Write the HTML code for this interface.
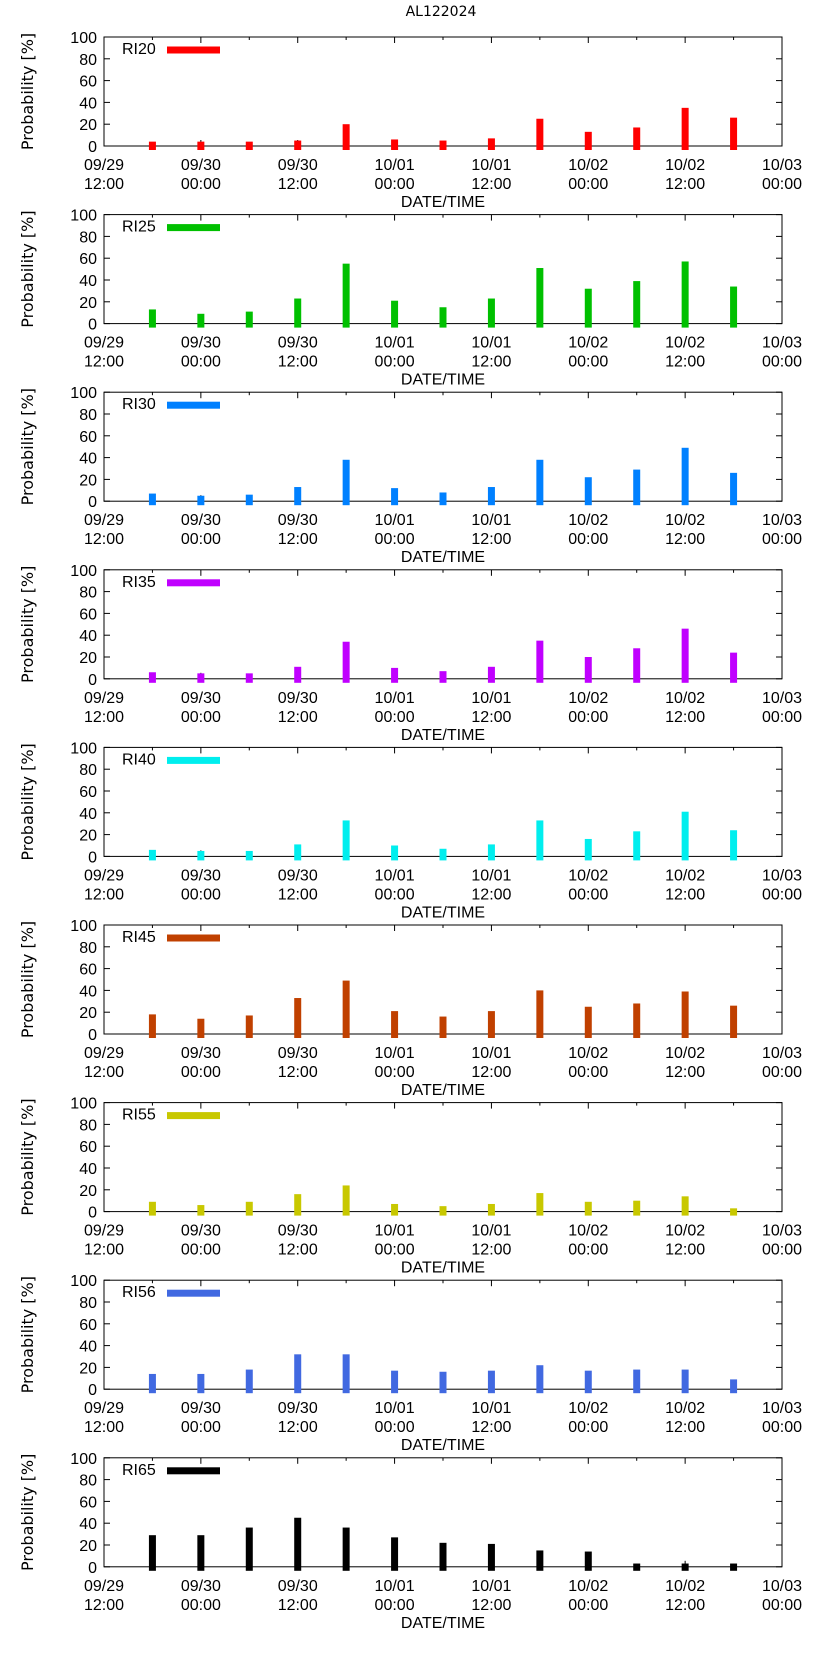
<!DOCTYPE html>
<html><head><meta charset="utf-8"><style>
body{margin:0;background:#fff;}
svg text{font-family:"Liberation Sans",sans-serif;fill:#000;}
svg text.dv{font-family:"DejaVu Sans",sans-serif;}
</style></head><body>
<svg id="c" width="822" height="1653" xmlns="http://www.w3.org/2000/svg">
<text class="dv" x="441" y="16" text-anchor="middle" font-size="14">AL122024</text>
</svg>
<script>
const seriesNames=["RI20","RI25","RI30","RI35","RI40","RI45","RI55","RI56","RI65"];
const seriesColors=["#ff0000","#00c000","#0080ff","#c000ff","#00eeee","#c04000","#c8c800","#4169e1","#000000"];
const barHours=[6,12,18,24,30,36,42,48,54,60,66,72,78];
const ri20=[4,4,4,5,20,6,5,7,25,13,17,35,26];
const ri25=[13,9,11,23,55,21,15,23,51,32,39,57,34];
const ri30=[7,5,6,13,38,12,8,13,38,22,29,49,26];
const ri35=[6,5,5,11,34,10,7,11,35,20,28,46,24];
const ri40=[6,5,5,11,33,10,7,11,33,16,23,41,24];
const ri45=[18,14,17,33,49,21,16,21,40,25,28,39,26];
const ri55=[9,6,9,16,24,7,5,7,17,9,10,14,3];
const ri56=[14,14,18,32,32,17,16,17,22,17,18,18,9];
const ri65=[29,29,36,45,36,27,22,21,15,14,3,3,3];
const allSeries=[ri20,ri25,ri30,ri35,ri40,ri45,ri55,ri56,ri65];
const xTickHours=[0,12,24,36,48,60,72,84];
const xTickTop=["09/29","09/30","09/30","10/01","10/01","10/02","10/02","10/03"];
const xTickBot=["12:00","00:00","12:00","00:00","12:00","00:00","12:00","00:00"];
const yTicks=[0,20,40,60,80,100];

const NS="http://www.w3.org/2000/svg";
const svg=document.getElementById('c');
const L=104,R=782,H=109,GAP=177.6,T0=37;
function mk(t,a,p){const e=document.createElementNS(NS,t);for(const k in a)e.setAttribute(k,a[k]);(p||svg).appendChild(e);return e;}
function xs(h){return L+(R-L)*h/84;}
for(let i=0;i<9;i++){
  const top=T0+i*GAP, bot=top+H;
  const ys=v=>bot-H*v/100;
  const g=mk('g',{});
  
  
  // ticks first
  yTicks.forEach(v=>{
    const y=ys(v);
    mk('line',{x1:L,x2:L+6,y1:y,y2:y,stroke:'#000'},g);
    mk('line',{x1:R-6,x2:R,y1:y,y2:y,stroke:'#000'},g);
    const t=mk('text',{x:L-7,y:y+6,'text-anchor':'end','font-size':16},g);
    t.textContent=v;
    
    
  });
  for(let h=0;h<=84;h+=6){
    const x=xs(h), len=(h%12===0)?6:3;
    mk('line',{x1:x,x2:x,y1:bot,y2:bot-len,stroke:'#000'},g);
    mk('line',{x1:x,x2:x,y1:top,y2:top+len,stroke:'#000'},g);
  }
  // frame
  const f=mk('rect',{x:L,y:top,width:R-L,height:H,fill:'none',stroke:'#000','stroke-width':1},g);
  
  
  // bars on top
  allSeries[i].forEach((v,j)=>{
    const b=mk('rect',{x:xs(barHours[j])-3.5,y:ys(v),width:7,height:bot-ys(v)+4,fill:seriesColors[i]},g);
    
    
  });
  xTickHours.forEach((h,k)=>{
    const t1=mk('text',{x:xs(h),y:bot+24,'text-anchor':'middle','font-size':16},g);
    t1.textContent=xTickTop[k];
    
    
    const t2=mk('text',{x:xs(h),y:bot+43,'text-anchor':'middle','font-size':16},g);
    t2.textContent=xTickBot[k];
    
    
  });
  const xt=mk('text',{x:(L+R)/2,y:bot+61,'text-anchor':'middle','font-size':16},g);
  xt.textContent='DATE/TIME';
  
  
  const yt=mk('text',{class:'dv',x:0,y:0,'text-anchor':'middle','font-size':16,transform:`translate(33,${(top+bot)/2}) rotate(-90)`},g);
  yt.textContent='Probability [%]';
  
  
  const lt=mk('text',{x:122,y:top+17,'font-size':16},g);
  lt.textContent=seriesNames[i];
  
  
  const ll=mk('rect',{x:167,y:top+9.5,width:53,height:7,fill:seriesColors[i]},g);
  
  
}
</script>
</body></html>
